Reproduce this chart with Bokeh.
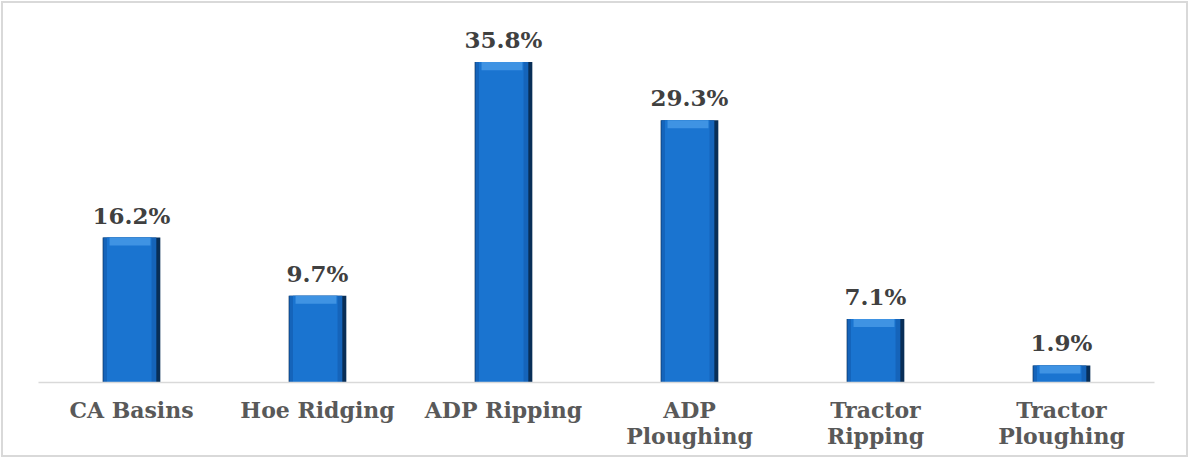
from bokeh.plotting import figure
from bokeh.models import ColumnDataSource
from bokeh.transform import dodge
from bokeh.core.properties import value
from bokeh.embed import file_html
from bokeh.resources import INLINE

# Share of respondents by tillage method
methods = ["CA Basins", "Hoe Ridging", "ADP Ripping", "ADP\nPloughing",
           "Tractor\nRipping", "Tractor\nPloughing"]
shares = [16.2, 9.7, 35.8, 29.3, 7.1, 1.9]
share_labels = [f"{v:.1f}%" for v in shares]

src = ColumnDataSource(dict(
    m=methods,
    v=shares,
    lab=share_labels,
    cap=[v - 0.9 for v in shares],
))

p = figure(
    x_range=methods, y_range=(0, 40),
    width=1189, height=458,
    output_backend="svg", toolbar_location=None,
    min_border_left=38, min_border_right=35,
    min_border_top=24, min_border_bottom=76,
)
# transparent canvas so the host's frame line shows through
p.background_fill_color = None
p.border_fill_color = None
p.outline_line_color = None
p.xgrid.visible = False
p.ygrid.visible = False
p.yaxis.visible = False

# bevelled bars: dark rim (heavier on the right), body, brighter core, top highlight
p.vbar(x="m", top="v", width=0.31, source=src, fill_color="#082E57", line_color=None)
p.vbar(x=dodge("m", -0.009, range=p.x_range), top="v", width=0.285, source=src,
       fill_color="#1564BA", line_color=None)
p.vbar(x=dodge("m", -0.012, range=p.x_range), top="v", width=0.24, source=src,
       fill_color="#1A74D0", line_color=None)
p.vbar(x=dodge("m", -0.008, range=p.x_range), top="v", bottom="cap", width=0.22,
       source=src, fill_color="#4C9DEA", fill_alpha=0.75, line_color=None)

p.text(x="m", y="v", text="lab", source=src,
       text_font=value("DejaVu Serif"), text_font_style="bold",
       text_font_size="23px", text_color="#404040",
       text_align="center", text_baseline="bottom", y_offset=-9)

ax = p.xaxis[0]
ax.axis_line_color = "#D9D9D9"
ax.axis_line_width = 1.5
ax.major_tick_line_color = None
ax.minor_tick_line_color = None
ax.major_tick_out = 0
ax.major_tick_in = 0
ax.major_label_standoff = 14
ax.major_label_text_font = "DejaVu Serif"
ax.major_label_text_font_style = "bold"
ax.major_label_text_font_size = "22px"
ax.major_label_text_color = "#595959"
ax.major_label_text_line_height = 1.0

# light frame around the whole chart
p.styles = {"outline": "2px solid #D9D9D9", "outline-offset": "-3px",
            "background-color": "white"}

open("out.html", "w").write(file_html(p, INLINE))
